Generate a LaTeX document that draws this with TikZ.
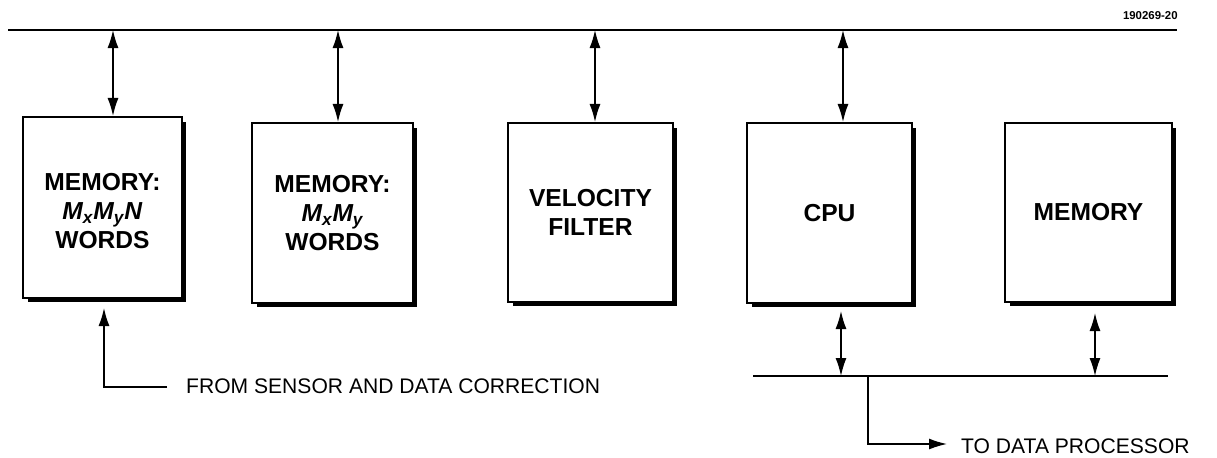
\documentclass[tikz,border=0pt]{standalone}
\usepackage{fontspec}
\setmainfont{Liberation Sans}
\usetikzlibrary{arrows.meta,shadows}

\begin{document}
\begin{tikzpicture}[x=0.02cm,y=-0.02cm,
	blk/.style={draw,line width=1.2pt,fill=white,inner sep=0pt,align=center,
		font=\fontsize{14}{16.5}\selectfont\bfseries,
		general shadow={fill=black,shadow xshift=0.09cm,shadow yshift=-0.09cm}},
	bus/.style={line width=1.1pt},
	arr/.style={line width=0.8pt,-{Latex[length=0.36cm,width=0.22cm]}},
	darr/.style={line width=0.8pt,{Latex[length=0.36cm,width=0.22cm]}-{Latex[length=0.36cm,width=0.22cm]}},
	lbl/.style={anchor=west,font=\fontsize{12}{14}\selectfont}]
	\useasboundingbox (0,0) rectangle (1217,457);
	\coordinate (busL) at (8,30);
	\coordinate (busR) at (1177,30);
	\draw[bus] (busL) -- (busR);
	\node[anchor=east,inner sep=0pt,font=\fontsize{6.5}{7}\selectfont\bfseries] (fig) at (1178,16) {190269-20};
	\node[blk,minimum width=3.18cm,minimum height=3.62cm] (mem1) at (102.5,207.5) {\rule{0pt}{0.5cm}MEMORY:\\\textit{M\textsubscript{x}M\textsubscript{y}N}\\WORDS};
	\node[blk,minimum width=3.22cm,minimum height=3.6cm] (mem2) at (332.5,213) {MEMORY:\\\textit{M\textsubscript{x}M\textsubscript{y}}\\WORDS};
	\node[blk,minimum width=3.3cm,minimum height=3.58cm] (vel) at (590.5,212.5) {VELOCITY\\FILTER};
	\node[blk,minimum width=3.3cm,minimum height=3.6cm] (cpu) at (829.5,213) {CPU};
	\node[blk,minimum width=3.34cm,minimum height=3.58cm] (mem) at (1088.5,212.5) {MEMORY};
	\draw[darr] ([xshift=0.21cm]mem1.north) -- ([xshift=0.21cm]mem1.north |- busL);
	\draw[darr] ([xshift=0.11cm]mem2.north) -- ([xshift=0.11cm]mem2.north |- busL);
	\draw[darr] ([xshift=0.09cm]vel.north) -- ([xshift=0.09cm]vel.north |- busL);
	\draw[darr] ([xshift=0.27cm]cpu.north) -- ([xshift=0.27cm]cpu.north |- busL);
	\coordinate (lbL) at (753,376);
	\coordinate (lbR) at (1168,376);
	\draw[bus] (lbL) -- (lbR);
	\draw[darr] ([xshift=0.23cm,yshift=-0.14cm]cpu.south) -- ([xshift=0.23cm]cpu.south |- lbL);
	\draw[darr] ([xshift=0.13cm,yshift=-0.2cm]mem.south) -- ([xshift=0.13cm]mem.south |- lbL);
	\coordinate (tap) at (868,376);
	\coordinate (out) at (947,444);
	\draw[arr] (tap) |- (out);
	\node[lbl] (dp) at (955,446) {TO DATA PROCESSOR};
	\coordinate (src) at (167,387);
	\draw[arr] (src) -| ([xshift=0.03cm,yshift=-0.18cm]mem1.south);
	\node[lbl] (sens) at (180,386) {FROM SENSOR AND DATA CORRECTION};
\end{tikzpicture}
\end{document}
